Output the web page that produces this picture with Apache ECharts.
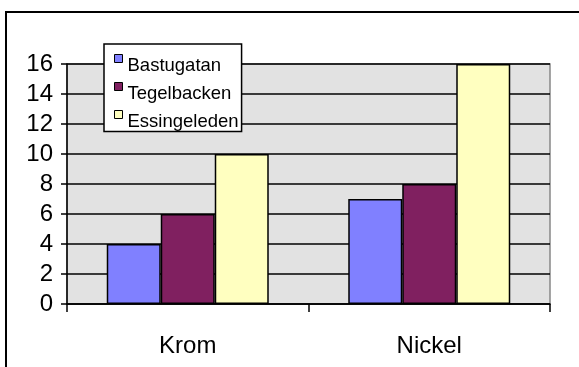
<!DOCTYPE html>
<html>
<head>
<meta charset="utf-8">
<script src="https://cdn.jsdelivr.net/npm/echarts@6/dist/echarts.min.js"></script>
<style>
  html, body { margin: 0; padding: 0; background: #fff; }
  #chart { width: 579px; height: 367px; }
</style>
</head>
<body>
<div id="chart"></div>
<script>
var categories = ['Krom', 'Nickel'];
var seriesNames = ['Bastugatan', 'Tegelbacken', 'Essingeleden'];
var bastugatan = [4, 7];
var tegelbacken = [6, 8];
var essingeleden = [10, 16];
var colors = ['#8080ff', '#802060', '#ffffc0'];

var chart = echarts.init(document.getElementById('chart'));
var values = [bastugatan, tegelbacken, essingeleden];
var series = [];
for (var i = 0; i < seriesNames.length; i++) {
    series.push({
        name: seriesNames[i],
        type: 'bar',
        data: values[i],
        barWidth: 54,
        barGap: '0%',
        itemStyle: { color: colors[i], borderColor: '#000', borderWidth: 1.5 }
    });
}
chart.setOption({
    animation: false,
    textStyle: { fontFamily: 'Liberation Sans, Arial, sans-serif' },
    grid: {
        left: 67, right: 29, top: 64, bottom: 63,
        show: true,
        backgroundColor: '#e2e2e2',
        borderColor: '#888',
        borderWidth: 1.5
    },
    legend: {
        orient: 'vertical',
        left: 104, top: 44,
        data: seriesNames,
        backgroundColor: '#fff',
        borderColor: '#000',
        borderWidth: 1.5,
        padding: [5, 3, 0, 10],
        itemWidth: 8, itemHeight: 8,
        itemGap: 1.5,
        icon: 'rect',
        itemStyle: { borderColor: '#000', borderWidth: 1 },
        formatter: function (name) { return '{s| }{t|' + name + '}'; },
        textStyle: {
            color: '#000',
            rich: {
                s: { height: 34, width: 0, fontSize: 18.5 },
                t: { fontSize: 18.5, verticalAlign: 'bottom', lineHeight: 18, color: '#000' }
            }
        }
    },
    xAxis: {
        type: 'category',
        data: categories,
        axisLine: { lineStyle: { color: '#000', width: 1.5 } },
        axisTick: { show: true, length: 8, lineStyle: { color: '#000', width: 1.5 } },
        axisLabel: { fontSize: 24, color: '#000', margin: 30 }
    },
    yAxis: {
        type: 'value',
        min: 0, max: 16, interval: 2,
        axisLine: { show: true, lineStyle: { color: '#000', width: 1.5 } },
        axisTick: { show: true, length: 6, lineStyle: { color: '#000', width: 1.5 } },
        axisLabel: { fontSize: 24, color: '#000', margin: 14 },
        splitLine: { lineStyle: { color: '#000', width: 1.5 } }
    },
    graphic: [{
        type: 'rect',
        shape: { x: 6, y: 12, width: 700, height: 500 },
        style: { fill: 'none', stroke: '#000', lineWidth: 2 },
        silent: true
    }],
    series: series
});
</script>
</body>
</html>
